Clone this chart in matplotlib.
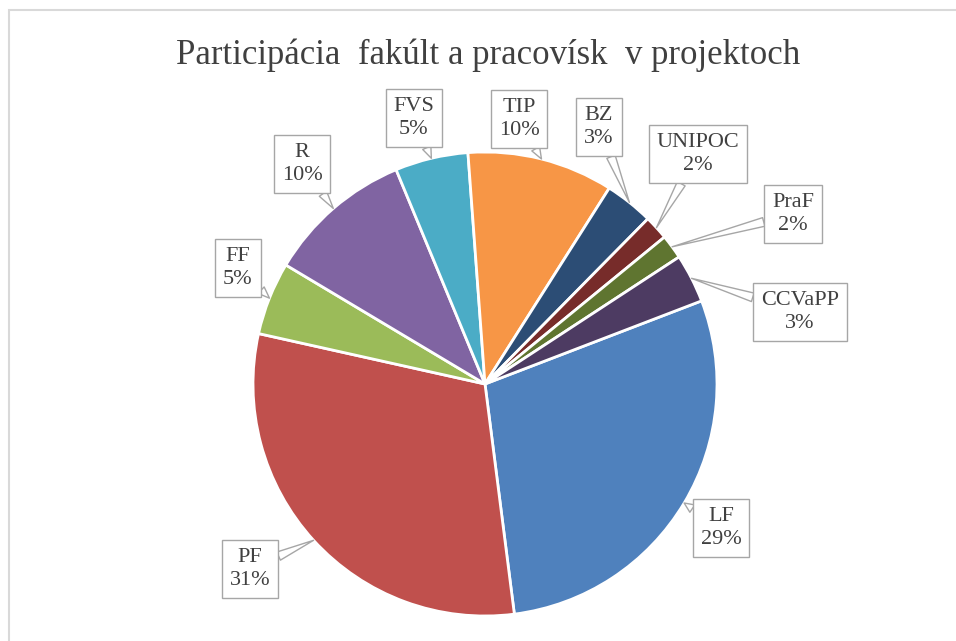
import numpy as np
import matplotlib.pyplot as plt
from matplotlib.patches import Rectangle

# data (project counts per faculty, percentages shown on labels)
labels = ['LF', 'PF', 'FF', 'R', 'FVS', 'TIP', 'BZ', 'UNIPOC', 'PraF', 'CCVaPP']
counts = [17, 18, 3, 6, 3, 6, 2, 1, 1, 2]
colors = ['#4F81BD', '#C0504D', '#9BBB59', '#8064A2', '#4BACC6',
          '#F79646', '#2C4D75', '#772C2A', '#5F7530', '#4D3B62']
title = 'Participácia  fakúlt a pracovísk  v projektoch'

# label box centres in pixel coords (layout only)
lab_pos = [(721, 528), (250, 569), (238, 268), (302, 164), (414, 118),
           (519, 119), (599, 127), (698, 154), (793, 214), (800, 312)]

W, H = 956, 641
fig = plt.figure(figsize=(W / 100, H / 100), dpi=100)
ax = fig.add_axes([0, 0, 1, 1])

# chart frame
ax.add_patch(Rectangle((9, -5), W, H - 5, fill=False, ec='#D9D9D9', lw=1.5))

cx, cy, r = 485, H - 384, 232
wedges, _ = ax.pie(counts, colors=colors, startangle=21, counterclock=False,
                   center=(cx, cy), radius=r, frame=True,
                   wedgeprops=dict(edgecolor='white', linewidth=2))
ax.set_xlim(0, W)
ax.set_ylim(0, H)
ax.set_aspect('equal')
ax.axis('off')

total = float(sum(counts))
for w, lab, c, (lx, ly) in zip(wedges, labels, counts, lab_pos):
    ang = np.deg2rad((w.theta1 + w.theta2) / 2)
    px = cx + r * np.cos(ang)
    py = cy + r * np.sin(ang)
    pct = '%d%%' % round(100 * c / total)
    ax.annotate(lab + '\n' + pct, xy=(px, py), xytext=(lx, H - ly),
                ha='center', va='center', fontsize=16, color='#404040',
                family='Liberation Serif', linespacing=1.35,
                bbox=dict(boxstyle='square,pad=0.35', fc='white', ec='#A6A6A6', lw=1),
                arrowprops=dict(arrowstyle='wedge,tail_width=0.4,shrink_factor=0.5',
                                fc='white', ec='#A6A6A6', lw=1,
                                shrinkA=0, shrinkB=0))

ax.text(cx + 3, H - 55, title, ha='center', va='center', fontsize=25,
        color='#404040', family='Liberation Serif')

fig.savefig('out.png', dpi=100)
